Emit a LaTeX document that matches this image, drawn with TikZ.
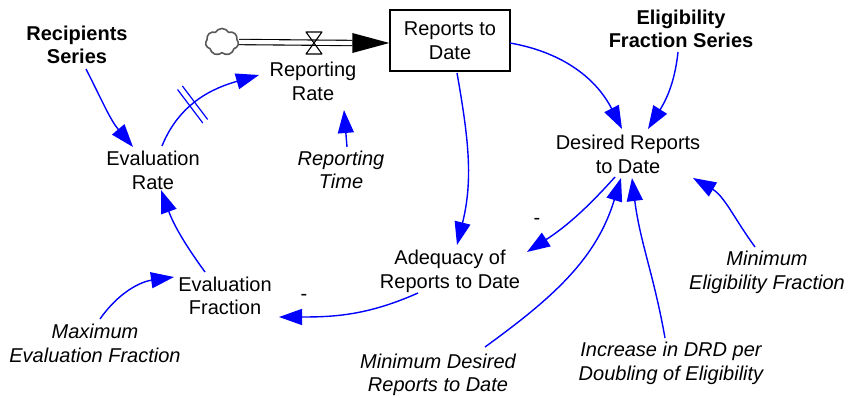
\documentclass[tikz,border=0pt]{standalone}
\usepackage{fontspec}
\setmainfont{Liberation Sans}
\usetikzlibrary{arrows.meta,shapes.symbols}

\begin{document}
\begin{tikzpicture}[x=1pt,y=1pt,
  lbl/.style={align=center, inner sep=0pt, font=\fontsize{20}{23.5}\selectfont},
  exo/.style={lbl, font=\fontsize{20}{23.5}\selectfont\itshape},
  series/.style={lbl, font=\fontsize{20}{23.5}\selectfont\bfseries},
  stock/.style={lbl, draw, line width=1.3pt, minimum width=120pt, minimum height=61pt},
  link/.style={draw=blue, line width=1.4pt, -{Triangle[length=23pt,width=16pt]}},
  pipe/.style={draw=black, line width=1.1pt, double=white, double distance=4.2pt},
  sign/.style={inner sep=0pt, font=\fontsize{20}{23.5}\selectfont},
  source/.style={cloud, cloud puffs=7, cloud puff arc=120, aspect=1.25,
    draw=black!65, line width=1.6pt, fill=white, minimum width=33pt, minimum height=27pt, inner sep=0pt}
]
\useasboundingbox (0,0) rectangle (858,-398);

% stock and its inflow
\node[stock] (box) at (450,-40.5) {Reports to\\Date};
\node[source] (cloud) at (222,-42) {};
\coordinate (valve) at (314,-43);
\draw[pipe] (cloud.east) -- ([shift={(-37,-2.5)}]box.west);
\fill ([shift={(-37,7.5)}]box.west) -- ([shift={(0,-2.5)}]box.west)
  -- ([shift={(-37,-12.5)}]box.west) -- cycle;
\draw[line width=1.1pt, line join=round]
  ([shift={(-8,11)}]valve) -- ([shift={(8,11)}]valve)
  -- ([shift={(-8,-11)}]valve) -- ([shift={(8,-11)}]valve) -- cycle;

% variables
\node[series] (rs)  at (77,-45)     {Recipients\\Series};
\node[series] (efs) at (681,-29)    {Eligibility\\Fraction Series};
\node[lbl]    (rr)  at (313,-81.5)  {Reporting\\Rate};
\node[exo]    (rt)  at (341,-170)   {Reporting\\Time};
\node[lbl]    (er)  at (153,-170.5) {Evaluation\\Rate};
\node[lbl]    (ef)  at (225,-296)   {Evaluation\\Fraction};
\node[exo]    (mef) at (95,-343.5)  {Maximum\\Evaluation Fraction};
\node[lbl]    (adq) at (450,-271.5) {Adequacy of\\Reports to Date};
\node[lbl]    (drd) at (628,-154.5) {Desired Reports\\to Date};
\node[exo]    (mdr) at (438,-375)   {Minimum Desired\\Reports to Date};
\node[exo]    (inc) at (671,-363.5) {Increase in DRD per\\Doubling of Eligibility};
\node[exo]    (mel) at (767,-272.5) {Minimum\\Eligibility Fraction};

% causal links
\draw[link] ([shift={(9,-24)}]rs.center) to[out=-63,in=130] ([shift={(-20,23.5)}]er.center);
\draw[link] ([shift={(9,24.5)}]er.center) to[out=68,in=196]
  coordinate[pos=0.42] (delay) ([shift={(-54,6.5)}]rr.center);
\begin{scope}[shift={(delay)}, rotate=37]
  \draw[blue, line width=1.2pt] (-3,-21) -- (-3,21) (3,-21) -- (3,21);
\end{scope}
\draw[link] ([shift={(6,23)}]rt.center) -- ([shift={(31,-28.5)}]rr.center);
\draw[link] ([shift={(60,-2.5)}]box.center) to[out=-10,in=117] ([shift={(-6,25.5)}]drd.center);
\draw[link] ([shift={(-3,-23)}]efs.center) to[out=-96,in=58] ([shift={(20,25.5)}]drd.center);
\draw[link] ([shift={(7,-32.5)}]box.center) to[out=-80,in=76] ([shift={(7,26.5)}]adq.center);
\draw[link] ([shift={(-13,-22.5)}]drd.center) to[out=-132,in=33] ([shift={(77,19.5)}]adq.center);
\draw[link] ([shift={(-32,-21.5)}]adq.center) to[out=-156,in=0] ([shift={(54,-21)}]ef.center);
\draw[link] ([shift={(-20,24)}]ef.center) to[out=126,in=-70] ([shift={(8,-19.5)}]er.center);
\draw[link] ([shift={(5,24.5)}]mef.center) to[out=55,in=188] ([shift={(-51,19)}]ef.center);
\draw[link] ([shift={(47,28)}]mdr.center) to[out=36,in=-107] ([shift={(-7,-23.5)}]drd.center);
\draw[link] ([shift={(-6,25.5)}]inc.center) to[out=100,in=-83] ([shift={(4,-23.5)}]drd.center);
\draw[link] ([shift={(-12,25.5)}]mel.center) to[out=126,in=-30] ([shift={(65,-23.5)}]drd.center);

% link polarities
\node[sign] (neg1) at (537,-221) {-};
\node[sign] (neg2) at (304,-297) {-};
\end{tikzpicture}
\end{document}
